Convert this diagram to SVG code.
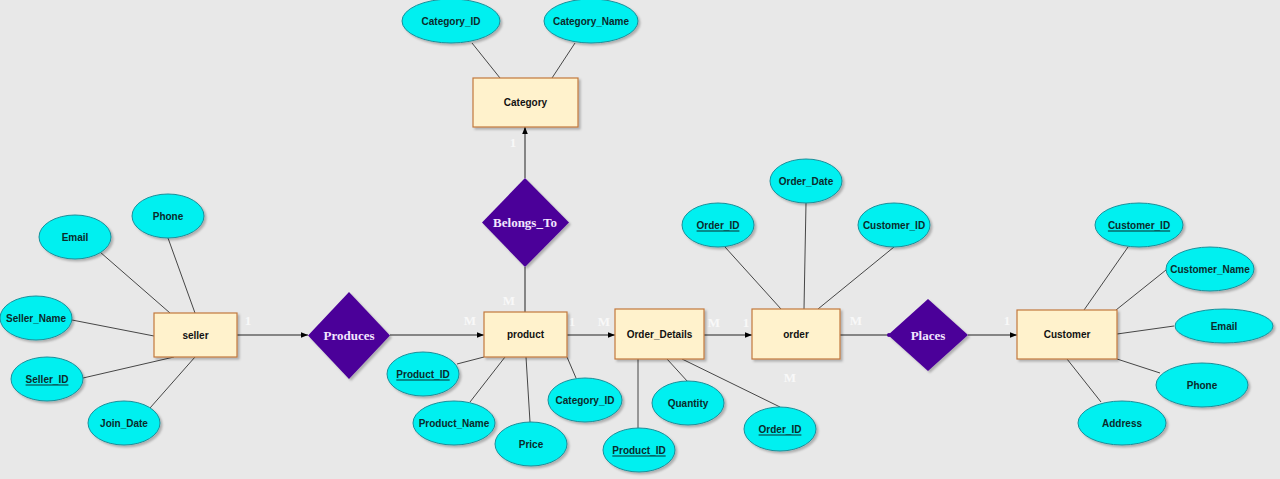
<svg xmlns="http://www.w3.org/2000/svg" width="1280" height="479" viewBox="0 0 1280 479">
<defs>
<filter id="sh" x="-20%" y="-20%" width="140%" height="150%">
<feDropShadow dx="2" dy="2" stdDeviation="1.2" flood-color="#000" flood-opacity="0.25"/>
</filter>
<marker id="arr" viewBox="0 0 10 10" refX="10" refY="5" markerWidth="7" markerHeight="7" orient="auto" markerUnits="userSpaceOnUse">
<path d="M0,1 L10,5 L0,9 Z" fill="#000"/>
</marker>
<marker id="dot" viewBox="0 0 10 10" refX="5" refY="5" markerWidth="5" markerHeight="5" markerUnits="userSpaceOnUse">
<circle cx="5" cy="5" r="4" fill="#4c0099"/>
</marker>
</defs>
<style>
.ent{fill:#fff2cc;stroke:#c2783c;stroke-width:1.2;filter:url(#sh)}
.att{fill:#00f0f0;stroke:#1a8f9a;stroke-width:1;filter:url(#sh)}
.rel{fill:#4c0099;filter:url(#sh)}
.et{font-family:"Liberation Sans",Arial,sans-serif;font-weight:bold;font-size:10px;fill:#111;text-anchor:middle;dominant-baseline:central}
.at{font-family:"Liberation Sans",Arial,sans-serif;font-weight:bold;font-size:10px;fill:#0b2b2b;text-anchor:middle;dominant-baseline:central}
.u{text-decoration:underline}
.rt{font-family:"Liberation Serif","Times New Roman",serif;font-weight:bold;font-size:13px;fill:#f3e6ff;text-anchor:middle;dominant-baseline:central}
.ct{font-family:"Liberation Serif","Times New Roman",serif;font-weight:bold;font-size:13px;fill:#f8f8f8;text-anchor:middle;dominant-baseline:central}
.ln{stroke:#333;stroke-width:0.9;fill:none}
.rl{stroke:#222;stroke-width:1;fill:none}
</style>
<rect width="1280" height="479" fill="#e8e8e8"/>
<g id="connectors">
<line class="ln" x1="100" y1="252" x2="170" y2="313"/>
<line class="ln" x1="168" y1="238" x2="195" y2="313"/>
<line class="ln" x1="72" y1="320" x2="154" y2="336"/>
<line class="ln" x1="83" y1="378" x2="174" y2="357"/>
<line class="ln" x1="150" y1="408" x2="195" y2="357"/>
<line class="ln" x1="457" y1="364" x2="484" y2="357"/>
<line class="ln" x1="470" y1="402" x2="505" y2="357"/>
<line class="ln" x1="526" y1="357" x2="530" y2="422"/>
<line class="ln" x1="567" y1="357" x2="576" y2="378"/>
<line class="ln" x1="472" y1="43" x2="500" y2="78"/>
<line class="ln" x1="575" y1="43" x2="552" y2="78"/>
<line class="ln" x1="638" y1="359" x2="638" y2="428"/>
<line class="ln" x1="667" y1="359" x2="688" y2="382"/>
<line class="ln" x1="682" y1="359" x2="780" y2="407"/>
<line class="ln" x1="725" y1="247" x2="781" y2="309"/>
<line class="ln" x1="806" y1="203" x2="804" y2="309"/>
<line class="ln" x1="894" y1="247" x2="818" y2="309"/>
<line class="ln" x1="1128" y1="247" x2="1084" y2="310"/>
<line class="ln" x1="1166" y1="270" x2="1116" y2="310"/>
<line class="ln" x1="1174" y1="326" x2="1117" y2="334"/>
<line class="ln" x1="1160" y1="373" x2="1117" y2="359"/>
<line class="ln" x1="1101" y1="402" x2="1067" y2="359"/>
<line class="rl" x1="237" y1="335" x2="308" y2="335" marker-end="url(#arr)"/>
<line class="rl" x1="390" y1="335" x2="484" y2="335" marker-end="url(#arr)"/>
<line class="rl" x1="525" y1="312" x2="525" y2="267"/>
<line class="rl" x1="525" y1="178" x2="525" y2="127" marker-end="url(#arr)"/>
<line class="rl" x1="567" y1="335" x2="615" y2="335" marker-end="url(#arr)"/>
<line class="rl" x1="704" y1="335" x2="752" y2="335" marker-end="url(#arr)"/>
<line class="rl" x1="840" y1="335" x2="889" y2="335" marker-end="url(#dot)"/>
<line class="rl" x1="968" y1="335" x2="1017" y2="335" marker-end="url(#arr)"/>
<text class="ct" x="248" y="320">1</text>
<text class="ct" x="470" y="320">M</text>
<text class="ct" x="509" y="300">M</text>
<text class="ct" x="513" y="142">1</text>
<text class="ct" x="572" y="321">1</text>
<text class="ct" x="604" y="321">M</text>
<text class="ct" x="714" y="322">M</text>
<text class="ct" x="746" y="322">1</text>
<text class="ct" x="856" y="320">M</text>
<text class="ct" x="790" y="377">M</text>
<text class="ct" x="1007" y="320">1</text>
</g>
<g id="seller"><rect class="ent" x="154" y="313" width="83" height="44"/><text class="et" x="195.5" y="335">seller</text></g>
<g id="product"><rect class="ent" x="484" y="312" width="83" height="45"/><text class="et" x="525.5" y="334">product</text></g>
<g id="order_details"><rect class="ent" x="615" y="309" width="89" height="50"/><text class="et" x="659.5" y="334">Order_Details</text></g>
<g id="order"><rect class="ent" x="752" y="309" width="88" height="50"/><text class="et" x="796" y="334">order</text></g>
<g id="customer"><rect class="ent" x="1017" y="310" width="100" height="49"/><text class="et" x="1067" y="334.5">Customer</text></g>
<g id="category"><rect class="ent" x="473" y="78" width="105" height="49"/><text class="et" x="525.5" y="102">Category</text></g>
<g id="produces"><polygon class="rel" points="349,292 390,335.5 349,379 308,335.5"/><text class="rt" x="349" y="335.5">Produces</text></g>
<g id="belongs_to"><polygon class="rel" points="525,178 569,222.5 525,267 482,222.5"/><text class="rt" x="525" y="222.5">Belongs_To</text></g>
<g id="places"><polygon class="rel" points="928,299 968,335 928,371 888,335"/><text class="rt" x="928" y="335">Places</text></g>
<g id="seller_email"><ellipse class="att" cx="75" cy="237" rx="36" ry="22"/><text class="at" x="75" y="237">Email</text></g>
<g id="seller_phone"><ellipse class="att" cx="168" cy="216" rx="36" ry="22"/><text class="at" x="168" y="216">Phone</text></g>
<g id="seller_name"><ellipse class="att" cx="36" cy="318" rx="36" ry="22"/><text class="at" x="36" y="318">Seller_Name</text></g>
<g id="seller_id"><ellipse class="att" cx="47" cy="379" rx="36" ry="22"/><text class="at u" x="47" y="379">Seller_ID</text></g>
<g id="join_date"><ellipse class="att" cx="124" cy="423" rx="36" ry="22"/><text class="at" x="124" y="423">Join_Date</text></g>
<g id="product_id"><ellipse class="att" cx="423" cy="374" rx="36" ry="22"/><text class="at u" x="423" y="374">Product_ID</text></g>
<g id="product_name"><ellipse class="att" cx="454" cy="423" rx="41" ry="22"/><text class="at" x="454" y="423">Product_Name</text></g>
<g id="price"><ellipse class="att" cx="531" cy="444" rx="36" ry="22"/><text class="at" x="531" y="444">Price</text></g>
<g id="product_category_id"><ellipse class="att" cx="585" cy="400" rx="37" ry="22"/><text class="at" x="585" y="400">Category_ID</text></g>
<g id="category_id"><ellipse class="att" cx="451" cy="21" rx="49" ry="22"/><text class="at" x="451" y="21">Category_ID</text></g>
<g id="category_name"><ellipse class="att" cx="591" cy="21" rx="47" ry="22"/><text class="at" x="591" y="21">Category_Name</text></g>
<g id="od_product_id"><ellipse class="att" cx="639" cy="450" rx="36" ry="22"/><text class="at u" x="639" y="450">Product_ID</text></g>
<g id="quantity"><ellipse class="att" cx="688" cy="403" rx="36" ry="22"/><text class="at" x="688" y="403">Quantity</text></g>
<g id="od_order_id"><ellipse class="att" cx="780" cy="429" rx="36" ry="22"/><text class="at u" x="780" y="429">Order_ID</text></g>
<g id="order_id"><ellipse class="att" cx="718" cy="225" rx="36" ry="22"/><text class="at u" x="718" y="225">Order_ID</text></g>
<g id="order_date"><ellipse class="att" cx="806" cy="181" rx="36" ry="22"/><text class="at" x="806" y="181">Order_Date</text></g>
<g id="order_customer_id"><ellipse class="att" cx="894" cy="225" rx="36" ry="22"/><text class="at" x="894" y="225">Customer_ID</text></g>
<g id="customer_id"><ellipse class="att" cx="1139" cy="225" rx="44" ry="22"/><text class="at u" x="1139" y="225">Customer_ID</text></g>
<g id="customer_name"><ellipse class="att" cx="1210" cy="269" rx="44" ry="22"/><text class="at" x="1210" y="269">Customer_Name</text></g>
<g id="customer_email"><ellipse class="att" cx="1224" cy="326" rx="49" ry="17"/><text class="at" x="1224" y="326">Email</text></g>
<g id="customer_phone"><ellipse class="att" cx="1202" cy="385" rx="46" ry="22"/><text class="at" x="1202" y="385">Phone</text></g>
<g id="address"><ellipse class="att" cx="1122" cy="423" rx="44" ry="22"/><text class="at" x="1122" y="423">Address</text></g>
</svg>
